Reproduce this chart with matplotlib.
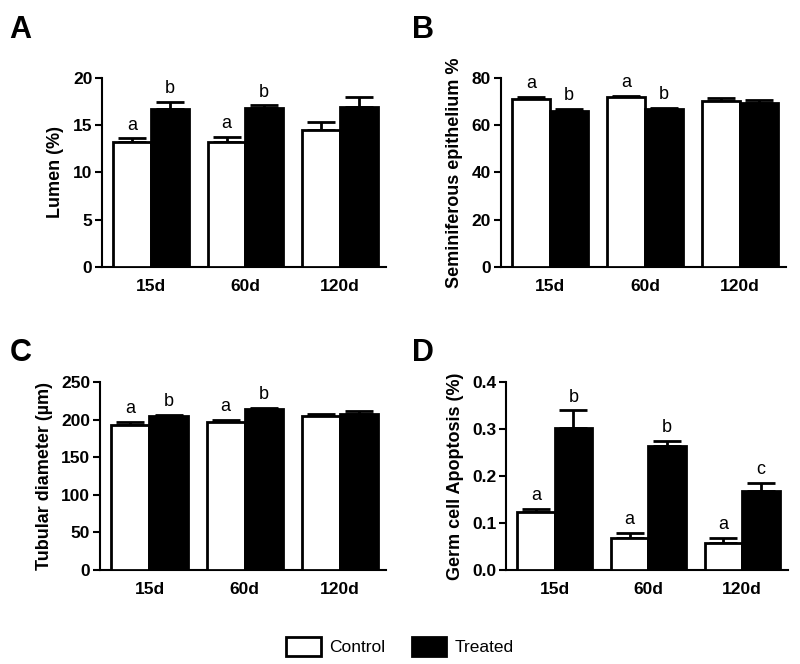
import matplotlib.pyplot as plt
import numpy as np
from matplotlib.patches import Patch

plt.rcParams['font.family'] = ['Liberation Sans', 'DejaVu Sans']

groups = ['15d', '60d', '120d']

lumen_ctrl = [13.2, 13.2, 14.5]
lumen_ctrl_err = [0.4, 0.6, 0.8]
lumen_trt = [16.7, 16.8, 16.9]
lumen_trt_err = [0.8, 0.3, 1.1]
lumen_letters = [('a', 'b'), ('a', 'b'), ('', '')]

epi_ctrl = [71.2, 71.8, 70.3]
epi_ctrl_err = [0.8, 0.5, 1.2]
epi_trt = [66.0, 66.8, 69.2]
epi_trt_err = [1.0, 0.6, 1.3]
epi_letters = [('a', 'b'), ('a', 'b'), ('', '')]

diam_ctrl = [193, 197, 205]
diam_ctrl_err = [4, 3, 2]
diam_trt = [205, 214, 208]
diam_trt_err = [1, 2, 3]
diam_letters = [('a', 'b'), ('a', 'b'), ('', '')]

apo_ctrl = [0.123, 0.068, 0.057]
apo_ctrl_err = [0.007, 0.011, 0.011]
apo_trt = [0.302, 0.263, 0.168]
apo_trt_err = [0.038, 0.012, 0.018]
apo_letters = [('a', 'b'), ('a', 'b'), ('a', 'c')]

fig = plt.figure(figsize=(8, 6.64), dpi=100)


def panel(rect, ctrl, cerr, trt, terr, letters, ymax, yticks, ylabel, ticklabels):
    ax = fig.add_axes(rect)
    x = np.arange(len(groups))
    w = 0.4
    ax.bar(x - w/2, ctrl, w, color='white', edgecolor='black', linewidth=2, zorder=3)
    ax.bar(x + w/2, trt, w, color='black', edgecolor='black', linewidth=2, zorder=3)
    ax.errorbar(x - w/2, ctrl, yerr=[np.zeros(3), cerr], fmt='none', ecolor='black',
                elinewidth=2, capsize=10, capthick=2, zorder=2)
    ax.errorbar(x + w/2, trt, yerr=[np.zeros(3), terr], fmt='none', ecolor='black',
                elinewidth=2, capsize=10, capthick=2, zorder=2)
    off = ymax * 0.025
    for i in range(len(groups)):
        lc, lt = letters[i]
        if lc:
            ax.text(x[i] - w/2, ctrl[i] + cerr[i] + off, lc, ha='center', va='bottom', fontsize=13)
        if lt:
            ax.text(x[i] + w/2, trt[i] + terr[i] + off, lt, ha='center', va='bottom', fontsize=13)
    ax.set_xlim(-0.52, 2.49)
    ax.set_ylim(0, ymax)
    ax.set_yticks(yticks)
    ax.set_yticklabels(ticklabels, fontweight='bold', fontsize=12.5)
    ax.set_xticks(x)
    ax.set_xticklabels(groups, fontweight='bold', fontsize=12.5)
    ax.tick_params(axis='x', length=0, pad=9)
    ax.tick_params(axis='y', length=5, width=1.5, pad=2)
    ax.set_ylabel(ylabel, fontweight='bold', fontsize=13, labelpad=6)
    for s in ['top', 'right']:
        ax.spines[s].set_visible(False)
    for s in ['left', 'bottom']:
        ax.spines[s].set_linewidth(1.5)
    return ax


panel([0.1275, 0.598, 0.355, 0.2846], lumen_ctrl, lumen_ctrl_err, lumen_trt, lumen_trt_err,
      lumen_letters, 20, [0, 5, 10, 15, 20], 'Lumen (%)', ['0', '5', '10', '15', '20'])
panel([0.626, 0.598, 0.357, 0.2846], epi_ctrl, epi_ctrl_err, epi_trt, epi_trt_err,
      epi_letters, 80, [0, 20, 40, 60, 80], 'Seminiferous epithelium %',
      ['0', '20', '40', '60', '80'])
panel([0.125, 0.1416, 0.358, 0.283], diam_ctrl, diam_ctrl_err, diam_trt, diam_trt_err,
      diam_letters, 250, [0, 50, 100, 150, 200, 250], 'Tubular diameter (µm)',
      ['0', '50', '100', '150', '200', '250'])
panel([0.6325, 0.1416, 0.3525, 0.283], apo_ctrl, apo_ctrl_err, apo_trt, apo_trt_err,
      apo_letters, 0.4, [0, 0.1, 0.2, 0.3, 0.4], 'Germ cell Apoptosis (%)',
      ['0.0', '0.1', '0.2', '0.3', '0.4'])

for lab, xx, yy in [('A', 0.012, 0.955), ('B', 0.515, 0.955), ('C', 0.012, 0.468), ('D', 0.515, 0.468)]:
    fig.text(xx, yy, lab, fontsize=22, fontweight='bold', va='center')

handles = [Patch(facecolor='white', edgecolor='black', linewidth=2, label='Control'),
           Patch(facecolor='black', edgecolor='black', linewidth=2, label='Treated')]
fig.legend(handles=handles, loc='center', bbox_to_anchor=(0.5, 0.027), ncol=2, frameon=False,
           fontsize=12.5, handlelength=2.0, handleheight=1.3, columnspacing=1.5, handletextpad=0.5)

fig.savefig('out.png', dpi=100)
